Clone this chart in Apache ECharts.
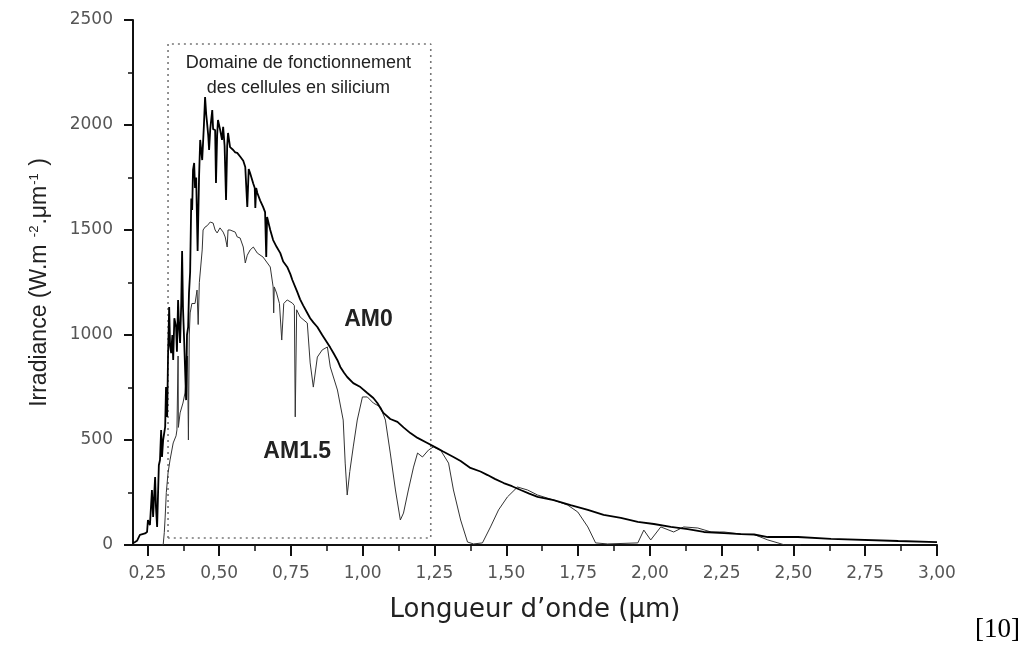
<!DOCTYPE html>
<html><head><meta charset="utf-8">
<script src="https://cdn.jsdelivr.net/npm/echarts@6/dist/echarts.min.js"></script>
<style>html,body{margin:0;padding:0;background:#fff}#c{width:1028px;height:646px}</style>
</head><body><div id="c"></div>
<script>
// AM0 spectrum (wavelength in µm, irradiance in W.m-2.µm-1)
const am0Wavelength = [0.200,0.207,0.214,0.224,0.242,0.249,0.252,0.259,0.266,0.270,0.277,0.280,0.284,0.290,0.294,0.298,0.301,0.305,0.312,0.315,0.319,0.322,0.326,0.329,0.333,0.337,0.340,0.344,0.350,0.353,0.357,0.360,0.364,0.368,0.371,0.374,0.378,0.385,0.388,0.392,0.395,0.399,0.403,0.406,0.409,0.413,0.416,0.420,0.425,0.430,0.434,0.441,0.447,0.451,0.455,0.458,0.462,0.465,0.469,0.476,0.479,0.486,0.489,0.493,0.496,0.503,0.510,0.514,0.519,0.524,0.528,0.531,0.538,0.549,0.556,0.563,0.573,0.584,0.591,0.598,0.603,0.608,0.619,0.624,0.626,0.629,0.633,0.643,0.653,0.660,0.664,0.667,0.678,0.688,0.700,0.713,0.723,0.737,0.748,0.755,0.772,0.782,0.793,0.807,0.817,0.828,0.842,0.859,0.877,0.887,0.898,0.912,0.922,0.935,0.946,0.967,0.992,1.016,1.037,1.051,1.072,1.096,1.121,1.142,1.166,1.191,1.225,1.260,1.280,1.316,1.341,1.375,1.410,1.435,1.460,1.491,1.520,1.550,1.580,1.609,1.665,1.724,1.784,1.839,1.899,1.958,2.014,2.073,2.132,2.188,2.258,2.317,2.363,2.411,2.516,2.631,2.865,3.000];
const am0Irradiance = [10,14,20,48,55,62,119,95,262,133,324,180,86,380,405,548,419,500,562,752,610,900,1133,950,914,1000,881,1080,1038,920,1167,1050,962,1150,1400,1133,980,690,1000,1038,1200,1300,1650,1595,1786,1819,1700,1750,1400,1750,1929,1833,2000,2133,2050,2009,1950,1881,1980,2071,1980,1976,1724,1950,2024,1980,1929,1991,1900,1643,1900,1962,1895,1881,1870,1867,1850,1830,1800,1610,1790,1770,1720,1700,1605,1700,1676,1640,1610,1585,1371,1562,1500,1452,1420,1390,1350,1324,1290,1262,1205,1170,1140,1105,1080,1060,1038,1000,962,940,914,880,848,820,800,771,752,724,700,676,629,600,586,560,533,510,486,460,445,419,400,367,350,333,315,295,280,262,245,229,214,190,167,143,129,110,100,86,76,62,57,52,50,38,38,29,19,14];

// AM1.5 spectrum
const am15Wavelength = [0.295,0.305,0.309,0.312,0.316,0.322,0.329,0.340,0.350,0.353,0.356,0.357,0.358,0.364,0.374,0.381,0.388,0.390,0.393,0.396,0.399,0.405,0.416,0.423,0.427,0.431,0.441,0.444,0.451,0.458,0.469,0.479,0.486,0.493,0.503,0.514,0.521,0.528,0.531,0.538,0.556,0.563,0.573,0.584,0.591,0.598,0.608,0.619,0.633,0.653,0.678,0.688,0.690,0.692,0.700,0.710,0.718,0.725,0.737,0.755,0.762,0.765,0.770,0.782,0.807,0.817,0.828,0.842,0.859,0.877,0.887,0.912,0.932,0.939,0.946,0.955,0.967,0.981,0.999,1.016,1.037,1.062,1.079,1.096,1.114,1.131,1.142,1.159,1.177,1.191,1.208,1.229,1.246,1.271,1.299,1.316,1.341,1.365,1.386,1.417,1.445,1.473,1.504,1.539,1.574,1.609,1.665,1.714,1.749,1.784,1.811,1.853,1.958,1.979,2.003,2.038,2.083,2.118,2.167,2.213,2.258,2.317,2.363,2.411,2.446,2.470,2.526];
const am15Irradiance = [0,0,60,133,250,343,405,486,520,548,548,900,560,629,676,724,848,900,500,1000,1105,1150,1150,1214,1050,1250,1405,1500,1514,1520,1538,1533,1500,1486,1510,1490,1467,1419,1500,1500,1490,1467,1462,1419,1343,1380,1405,1419,1390,1371,1324,1229,1105,1229,1200,1150,976,1150,1167,1152,1140,610,1120,1086,1057,867,752,895,929,943,848,738,595,390,238,350,467,595,705,705,676,657,595,438,262,119,152,262,371,438,419,452,467,452,390,262,119,14,5,10,86,167,229,276,262,238,214,190,157,86,10,5,10,71,24,86,62,86,81,62,62,52,50,24,10,0,0];

// Dotted rectangle: silicon operating domain
const boxWavelength = [0.322, 1.237];
const boxIrradiance = [33, 2386];

// Axis ticks
const xTickValues = [0.25,0.50,0.75,1.00,1.25,1.50,1.75,2.00,2.25,2.50,2.75,3.00];
const xTickLabels = ['0,25','0,50','0,75','1,00','1,25','1,50','1,75','2,00','2,25','2,50','2,75','3,00'];
const xMinorTickValues = [0.375,0.625,0.875,1.125,1.375,1.625,1.875,2.125,2.375,2.625,2.875];
const yTickValues = [0,500,1000,1500,2000,2500];
const yTickLabels = ['0','500','1000','1500','2000','2500'];

const zip = (a, b) => a.map((v, i) => [v, b[i]]);
const boxData = [
  [boxWavelength[0], boxIrradiance[0]], [boxWavelength[0], boxIrradiance[1]],
  [boxWavelength[1], boxIrradiance[1]], [boxWavelength[1], boxIrradiance[0]],
  [boxWavelength[0], boxIrradiance[0]]
];
const pick = (vals, labs) => v => { const i = vals.findIndex(t => Math.abs(t - v) < 1e-6); return i >= 0 ? labs[i] : ''; };

const chart = echarts.init(document.getElementById('c'), null, {renderer: 'canvas'});
const tickFont = '"DejaVu Sans", sans-serif';
const sansFont = '"Liberation Sans", Arial, sans-serif';
const option = {
  animation: false,
  backgroundColor: '#fff',
  grid: {left: 133, right: 91, top: 20, bottom: 101},
  xAxis: [{
    type: 'value', min: 0.2, max: 3.0,
    name: 'Longueur d\u2019onde (\u03bcm)', nameLocation: 'middle', nameGap: 52,
    nameTextStyle: {fontFamily: tickFont, fontSize: 26, color: '#222'},
    axisLine: {show: true, onZero: false, lineStyle: {color: '#111', width: 2}},
    axisTick: {show: true, customValues: xTickValues, length: 11, lineStyle: {color: '#111', width: 2}},
    axisLabel: {show: true, customValues: xTickValues, margin: 20, color: '#555', fontFamily: tickFont, fontSize: 17,
      formatter: pick(xTickValues, xTickLabels)},
    splitLine: {show: false}
  }, {
    type: 'value', min: 0.2, max: 3.0, position: 'bottom', gridIndex: 0,
    axisLine: {show: false},
    axisTick: {show: true, customValues: xMinorTickValues, length: 6, lineStyle: {color: '#111', width: 1.5}},
    axisLabel: {show: false},
    splitLine: {show: false}
  }],
  yAxis: {
    type: 'value', min: 0, max: 2500, interval: 500,
    name: '{n|Irradiance (W.m }{s|-2}{n|.\u03bcm}{s|-1}{n| )}', nameLocation: 'middle', nameGap: 82, nameRotate: 90,
    nameTextStyle: {rich: {
      n: {fontFamily: sansFont, fontSize: 23, color: '#222', verticalAlign: 'bottom'},
      s: {fontFamily: sansFont, fontSize: 13, color: '#222', verticalAlign: 'top', padding: [0, 1, 10, 1]}
    }},
    axisLine: {show: true, lineStyle: {color: '#111', width: 2}},
    axisTick: {show: true, length: 9, lineStyle: {color: '#111', width: 2}},
    minorTick: {show: true, splitNumber: 2, length: 5, lineStyle: {color: '#111', width: 1.5}},
    axisLabel: {margin: 20, color: '#555', fontFamily: tickFont, fontSize: 17, formatter: pick(yTickValues, yTickLabels)},
    splitLine: {show: false}, minorSplitLine: {show: false}
  },
  series: [
    {name: 'box', type: 'line', data: boxData, showSymbol: false, silent: true,
      lineStyle: {color: '#777', width: 1.6, type: [2, 4]}, z: 1},
    {name: 'AM1.5', type: 'line', data: zip(am15Wavelength, am15Irradiance), showSymbol: false,
      lineStyle: {color: '#333', width: 1}, z: 2},
    {name: 'AM0', type: 'line', data: zip(am0Wavelength, am0Irradiance), showSymbol: false,
      lineStyle: {color: '#000', width: 1.8}, z: 3}
  ]
};
chart.setOption(option);

// annotations anchored in data coordinates
const p = (x, y) => chart.convertToPixel({xAxisIndex: 0, yAxisIndex: 0}, [x, y]);
const boxLine1 = p(0.776, 2295), boxLine2 = p(0.776, 2176);
const labAM0 = p(1.020, 1071), labAM15 = p(0.772, 443);
const txt = (pos, text, font, fill) => ({type: 'text', x: pos[0], y: pos[1],
  style: {text, font, fill, textAlign: 'center', textVerticalAlign: 'middle'}});
chart.setOption({graphic: [
  txt(boxLine1, 'Domaine de fonctionnement', '18px "Liberation Sans", Arial', '#222'),
  txt(boxLine2, 'des cellules en silicium', '18px "Liberation Sans", Arial', '#222'),
  txt(labAM0, 'AM0', 'bold 23px "Liberation Sans", Arial', '#222'),
  txt(labAM15, 'AM1.5', 'bold 23px "Liberation Sans", Arial', '#222'),
  {type: 'text', right: 8, top: 616, style: {text: '[10]', font: '27px "Liberation Serif", "Times New Roman", serif', fill: '#000'}}
]});
</script></body></html>
